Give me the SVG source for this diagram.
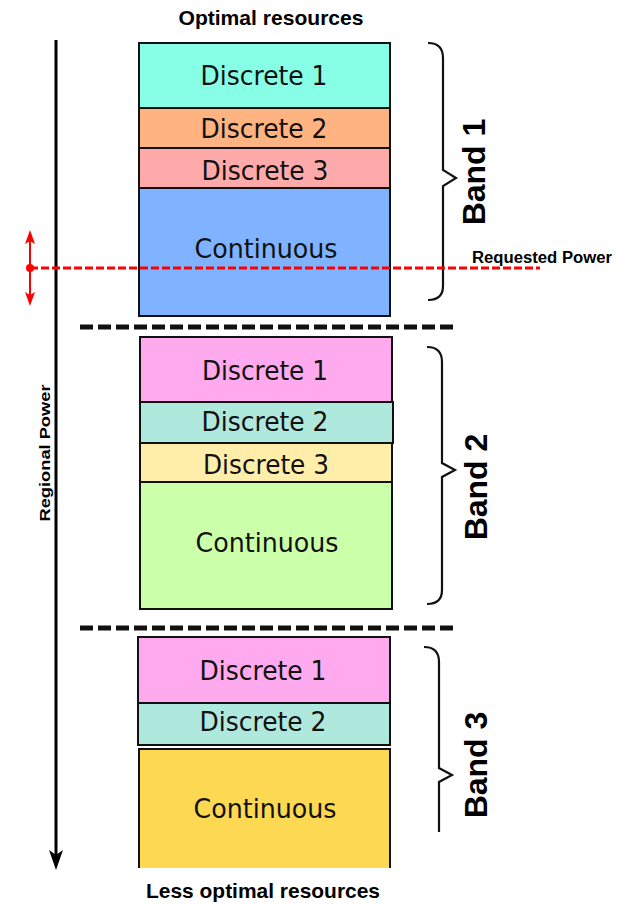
<svg xmlns="http://www.w3.org/2000/svg" width="636" height="904" viewBox="0 0 636 904">
<style>
.box{stroke:#111;stroke-width:2}
.lbl{font-family:"DejaVu Sans",Verdana,sans-serif;font-size:26px;fill:#111;text-anchor:middle}
.band{font-family:"Liberation Sans",Arial,sans-serif;font-weight:bold;font-size:32px;fill:#000;text-anchor:middle}
.cap{font-family:"Liberation Sans",Arial,sans-serif;font-weight:bold;fill:#000;text-anchor:middle}
.brace{fill:none;stroke:#111;stroke-width:2.2}
.sep{stroke:#111;stroke-width:5;stroke-dasharray:13 5}
</style>
<text class="cap" x="271" y="25" font-size="21" textLength="185" lengthAdjust="spacingAndGlyphs">Optimal resources</text>
<text class="cap" x="263" y="898" font-size="21" textLength="234" lengthAdjust="spacingAndGlyphs">Less optimal resources</text>
<g id="connectors">
<line x1="56" y1="40" x2="56" y2="858" stroke="#000" stroke-width="3"/>
<path d="M56,870 L49,850 L56,855 L63,850 Z" fill="#000"/>
<line class="sep" x1="80" y1="327" x2="455" y2="327"/>
<line class="sep" x1="80" y1="628" x2="455" y2="628"/>
</g>
<g id="band1">
<rect class="box" x="139" y="43" width="251" height="65" fill="#86ffe6"/>
<text class="lbl" x="264" y="85" textLength="127" lengthAdjust="spacingAndGlyphs">Discrete 1</text>
<rect class="box" x="139" y="108" width="251" height="40" fill="#ffb380"/>
<text class="lbl" x="264" y="138" textLength="127" lengthAdjust="spacingAndGlyphs">Discrete 2</text>
<rect class="box" x="139" y="148" width="251" height="40" fill="#ffaaaa"/>
<text class="lbl" x="265" y="180" textLength="127" lengthAdjust="spacingAndGlyphs">Discrete 3</text>
<rect class="box" x="139" y="188" width="251" height="128" fill="#80b3ff"/>
<text class="lbl" x="266" y="258" textLength="143" lengthAdjust="spacingAndGlyphs">Continuous</text>
<path class="brace" d="M428,43 Q443,43 443,58 L443,170 L456,178 L443,186 L443,286 Q443,300 428,300"/>
<text class="band" transform="translate(485,172) rotate(-90)">Band 1</text>
</g>
<g id="band2">
<rect class="box" x="140" y="337" width="252" height="65" fill="#ffaaee"/>
<text class="lbl" x="265" y="380" textLength="126" lengthAdjust="spacingAndGlyphs">Discrete 1</text>
<rect class="box" x="140" y="402" width="253" height="41" fill="#afe9dd"/>
<text class="lbl" x="265" y="431" textLength="127" lengthAdjust="spacingAndGlyphs">Discrete 2</text>
<rect class="box" x="140" y="443" width="252" height="39" fill="#ffeeaa"/>
<text class="lbl" x="266" y="474" textLength="126" lengthAdjust="spacingAndGlyphs">Discrete 3</text>
<rect class="box" x="140" y="482" width="252" height="127" fill="#ccffaa"/>
<text class="lbl" x="267" y="552" textLength="143" lengthAdjust="spacingAndGlyphs">Continuous</text>
<path class="brace" d="M427,347 Q442,347 442,362 L442,463 L455,470 L442,477 L442,590 Q442,604 427,604"/>
<text class="band" transform="translate(487,487) rotate(-90)">Band 2</text>
</g>
<g id="band3">
<rect class="box" x="138" y="637" width="252" height="66" fill="#ffaaee"/>
<text class="lbl" x="263" y="680" textLength="127" lengthAdjust="spacingAndGlyphs">Discrete 1</text>
<rect class="box" x="138" y="703" width="252" height="42" fill="#afe9dd"/>
<text class="lbl" x="263" y="731" textLength="127" lengthAdjust="spacingAndGlyphs">Discrete 2</text>
<rect x="139" y="749" width="250" height="119" fill="#fdd853"/>
<path d="M139,868 L139,749 L390,749 L390,868" fill="none" stroke="#111" stroke-width="2"/>
<text class="lbl" x="265" y="818" textLength="143" lengthAdjust="spacingAndGlyphs">Continuous</text>
<path class="brace" d="M424,647 Q439,647 439,662 L439,768 L452,775 L439,782 L439,832"/>
<text class="band" transform="translate(487,765) rotate(-90)">Band 3</text>
</g>
<g id="requested">
<line x1="30" y1="268" x2="540" y2="268" stroke="#f00" stroke-width="3" stroke-dasharray="8 3"/>
<line x1="30" y1="240" x2="30" y2="296" stroke="#f00" stroke-width="2"/>
<path d="M30,230 L35,244 L30,241 L25,244 Z" fill="#f00"/>
<path d="M30,306 L35,292 L30,295 L25,292 Z" fill="#f00"/>
<circle cx="30" cy="268" r="4" fill="#f00"/>
<text class="cap" x="542" y="263" font-size="16" textLength="140" lengthAdjust="spacingAndGlyphs">Requested Power</text>
</g>
<text class="cap" transform="translate(50,453) rotate(-90)" font-size="15" textLength="137" lengthAdjust="spacingAndGlyphs">Regional Power</text>
</svg>
